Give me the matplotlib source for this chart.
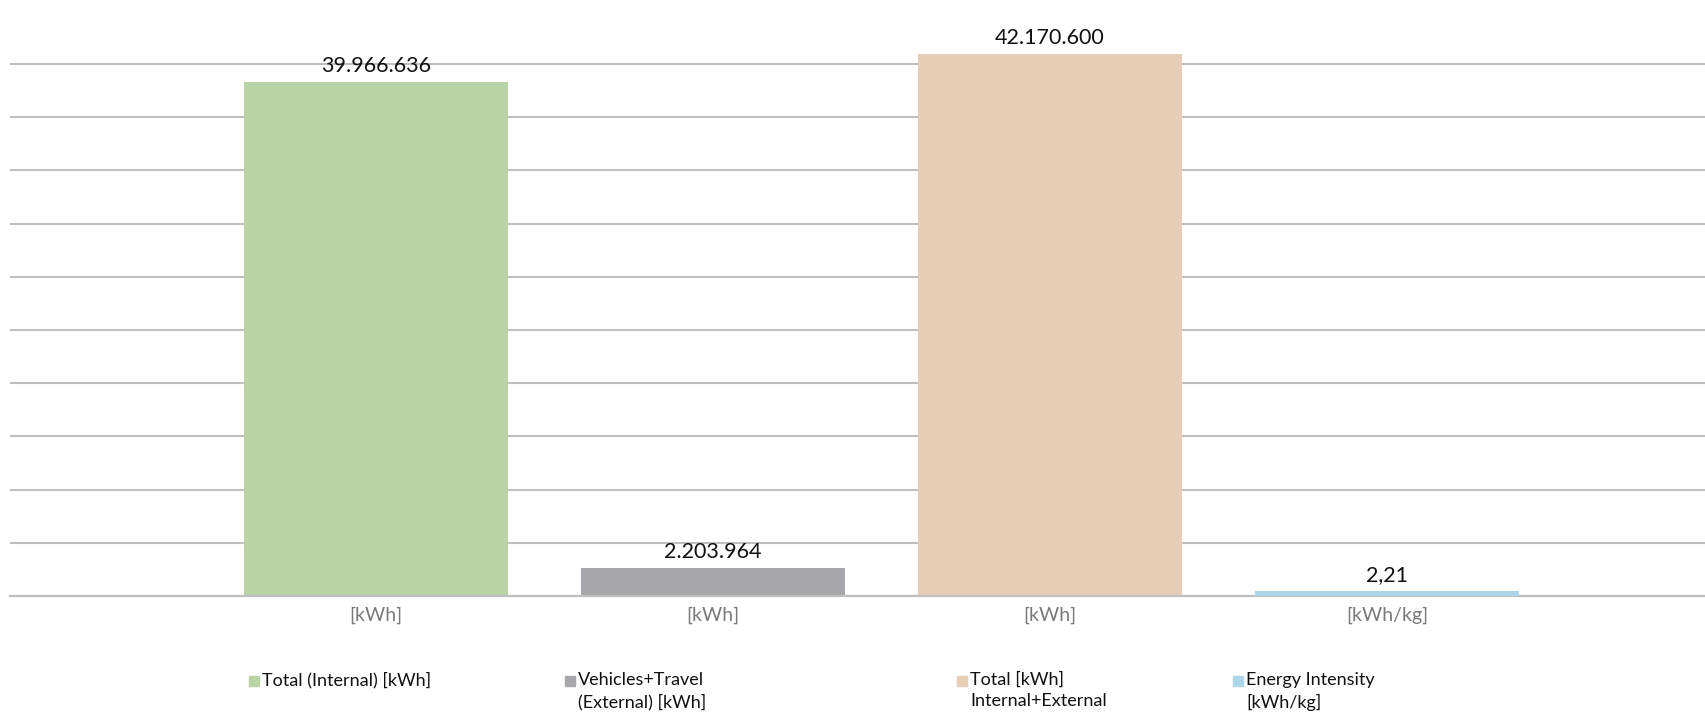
import matplotlib.pyplot as plt
import numpy as np
from matplotlib.patches import Rectangle

plt.rcParams['font.family'] = ['Lato', 'DejaVu Sans']

# data
units = ["[kWh]", "[kWh]", "[kWh]", "[kWh/kg]"]
energy_kwh = [39966636, 2203964, 42170600]
intensity = [2.21]
value_labels = ["39.966.636", "2.203.964", "42.170.600", "2,21"]
legend_labels = ["Total (Internal) [kWh]", "Vehicles+Travel\n(External) [kWh]",
                 "Total [kWh]\nInternal+External", "Energy Intensity\n[kWh/kg]"]
colors = ["#B8D3A6", "#A7A7AB", "#E8CEB6", "#ACD5E8"]

W, H = 1705, 719
fig = plt.figure(figsize=(W / 100, H / 100), dpi=100)
ax = fig.add_axes([10 / W, 123 / H, 1695 / W, 586 / H])
ax2 = ax.twinx()

x = np.arange(4)
bw = 0.783
ymax = 45.57e6
step = 0.0908 * ymax

ax.bar(x[:3], energy_kwh, width=bw, color=colors[:3], zorder=3)
ax2.bar(x[3:], intensity, width=bw, color=colors[3], zorder=3)

ax.set_ylim(0, ymax)
ax2.set_ylim(0, 259)
ax.set_xlim(-1.086, 3.944)
ax.set_yticks(np.arange(0, 11) * step)
ax.yaxis.grid(True, color="#BFBFBF", linewidth=1.5, zorder=0)
ax.set_axisbelow(True)
ax.tick_params(axis="y", left=False, labelleft=False)
ax2.tick_params(axis="y", right=False, labelright=False)
ax.set_xticks(x)
ax.set_xticklabels(units, fontsize=14, color="#7A7A7A")
ax.tick_params(axis="x", length=0, pad=8)
for a in (ax, ax2):
    for s in ("top", "left", "right"):
        a.spines[s].set_visible(False)
    a.spines["bottom"].set_color("#BFBFBF")
    a.spines["bottom"].set_linewidth(1.5)

for i, v in enumerate(energy_kwh):
    ax.annotate(value_labels[i], (x[i], v), xytext=(0, 4), textcoords="offset points",
                ha="center", va="bottom", fontsize=15.5, color="#111111")
ax2.annotate(value_labels[3], (x[3], intensity[0]), xytext=(0, 4), textcoords="offset points",
             ha="center", va="bottom", fontsize=15.5, color="#111111")

# legend drawn by hand to keep Excel-like spacing
leg_x = [249, 565, 957, 1233]
for lx, lab, c in zip(leg_x, legend_labels, colors):
    fig.patches.append(Rectangle((lx / W, 1 - 686 / H), 10 / W, 10 / H,
                                 transform=fig.transFigure, color=c))
    fig.text((lx + 13) / W, 1 - 672 / H, lab, ha="left", va="top",
             fontsize=13, color="#111111", linespacing=1.4)

fig.savefig("out.png", dpi=100)
